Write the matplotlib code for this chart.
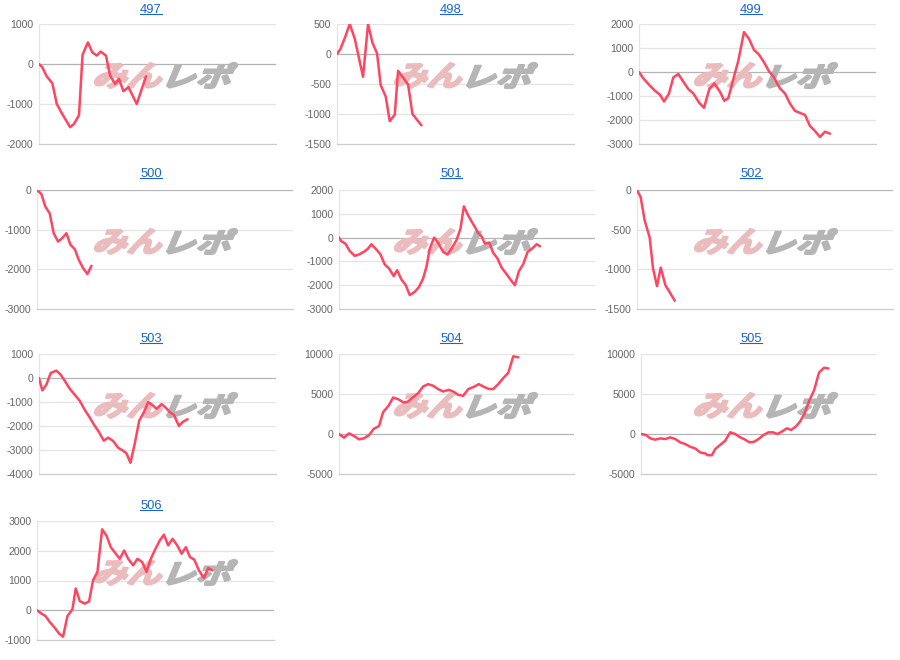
import matplotlib
matplotlib.use('Agg')
import matplotlib.pyplot as plt
from matplotlib.textpath import TextPath
from matplotlib.patches import PathPatch
from matplotlib.font_manager import FontProperties
from matplotlib.transforms import Affine2D, IdentityTransform
from matplotlib.lines import Line2D

plt.rcParams['font.family'] = ['Liberation Sans', 'DejaVu Sans']
plt.rcParams['axes.unicode_minus'] = False

# machine numbers
machines = ['497', '498', '499', '500', '501', '502', '503', '504', '505', '506']

# games played / coin difference for each machine
games_497 = [0, 110, 260, 450, 600, 770, 1050, 1180, 1350, 1470, 1650, 1800, 1950, 2080, 2260,
             2400, 2570, 2700, 2850, 3020, 3300, 3610]
diff_497 = [0, -80, -310, -480, -1000, -1230, -1580, -1500, -1280, 230, 540, 290, 210, 310, 210,
            -290, -500, -370, -680, -580, -1000, -310]

games_498 = [0, 113, 282, 428, 597, 879, 1048, 1195, 1352, 1476, 1645, 1781, 1950, 2062, 2400, 2547, 2851]
diff_498 = [0, 80, 290, 500, 260, -380, 500, 190, 10, -520, -710, -1120, -1010, -280, -510, -1000, -1190]

games_499 = [0, 146, 371, 540, 709, 844, 1013, 1159, 1328, 1496, 1665, 1834, 2025, 2194, 2374, 2543,
             2734, 2880, 3015, 3184, 3353, 3544, 3713, 3881, 4050, 4219, 4388, 4534, 4759, 4928, 5096,
             5265, 5434, 5603, 5771, 5940, 6109, 6278, 6446]
diff_499 = [0, -265, -573, -782, -950, -1229, -894, -223, -84, -405, -712, -894, -1271, -1494, -712, -475,
            -824, -1201, -1089, -293, 475, 1662, 1383, 922, 726, 405, 28, -182, -684, -894, -1313,
            -1620, -1704, -1788, -2249, -2458, -2709, -2486, -2570]

games_500 = [0, 136, 261, 397, 522, 658, 783, 919, 1044, 1180, 1305, 1441, 1576, 1702]
diff_500 = [0, -100, -420, -590, -1090, -1300, -1220, -1090, -1380, -1490, -1760, -1970, -2120, -1910]

games_501 = [0, 73, 198, 334, 490, 647, 803, 907, 1012, 1168, 1293, 1429, 1565, 1711, 1815, 1950, 2086,
             2211, 2368, 2503, 2628, 2733, 2837, 2973, 3098, 3254, 3390, 3515, 3671, 3797, 3901, 4036,
             4141, 4245, 4349, 4454, 4558, 4694, 4819, 4954, 5079, 5236, 5371, 5497, 5622, 5757, 5893,
             6039, 6175, 6279]
diff_501 = [0, -154, -251, -559, -768, -698, -573, -461, -279, -503, -698, -1131, -1299, -1620, -1369,
            -1760, -1997, -2416, -2277, -2067, -1718, -1229, -461, 0, -223, -601, -712, -461, -112, 377,
            1313, 936, 684, 447, 196, 56, -251, -209, -642, -880, -1257, -1536, -1788, -1997, -1411,
            -1117, -601, -461, -279, -363]

games_502 = [0, 115, 240, 397, 501, 626, 741, 887, 1044, 1180]
diff_502 = [0, -92, -384, -602, -990, -1212, -978, -1199, -1304, -1396]

games_503 = [0, 113, 248, 394, 586, 732, 868, 1037, 1206, 1375, 1544, 1713, 1882, 2017, 2186, 2333,
             2502, 2671, 2840, 2952, 3088, 3234, 3381, 3539, 3685, 3820, 3967, 4136, 4271, 4418, 4553,
             4722, 4869, 5015]
diff_503 = [0, -517, -279, 209, 307, 140, -112, -447, -698, -950, -1327, -1648, -1997, -2235, -2612,
            -2486, -2626, -2905, -3031, -3142, -3534, -2723, -1788, -1425, -1006, -1117, -1285, -1089,
            -1229, -1425, -1536, -1997, -1816, -1718]

games_504 = [0, 170, 341, 511, 682, 852, 1023, 1182, 1364, 1500, 1693, 1841, 2011, 2204, 2352, 2523,
             2693, 2864, 3034, 3205, 3375, 3545, 3738, 3886, 4057, 4227, 4398, 4568, 4761, 4909, 5080,
             5250, 5420, 5591, 5761, 5932, 6102]
diff_504 = [0, -460, 80, -250, -670, -540, -130, 630, 1000, 2720, 3560, 4560, 4350, 3930, 4060, 4600,
            5100, 5940, 6230, 6030, 5610, 5310, 5520, 5310, 4900, 4770, 5610, 5860, 6230, 5940, 5650,
            5610, 6230, 6990, 7620, 9710, 9580]

games_505 = [0, 170, 317, 487, 657, 827, 997, 1167, 1337, 1507, 1677, 1847, 2017, 2187, 2266, 2413,
             2527, 2697, 2866, 3036, 3206, 3376, 3546, 3694, 3852, 4000, 4169, 4339, 4487, 4645, 4815,
             4963, 5110, 5268, 5416, 5563, 5733, 5892, 6062, 6232, 6379]
diff_505 = [0, -130, -550, -710, -550, -630, -420, -630, -1050, -1260, -1600, -1810, -2310, -2440, -2650,
            -2650, -1890, -1350, -840, 210, 0, -420, -710, -1050, -970, -630, -130, 210, 210, 0, 340,
            710, 500, 920, 1560, 2520, 4200, 5460, 7690, 8280, 8190]

games_506 = [0, 146, 282, 428, 575, 744, 879, 1026, 1195, 1307, 1443, 1612, 1758, 1893, 2040, 2198,
             2344, 2491, 2660, 2795, 2941, 3077, 3246, 3392, 3550, 3697, 3843, 4001, 4147, 4283, 4429,
             4576, 4733, 4880, 5026, 5162, 5308, 5466, 5635, 5781, 5917]
diff_506 = [0, -110, -190, -390, -560, -780, -890, -200, 30, 730, 310, 220, 300, 1010, 1290, 2720,
            2510, 2120, 1900, 1730, 2010, 1730, 1510, 1730, 1620, 1290, 1730, 2070, 2350, 2540, 2180,
            2400, 2180, 1900, 2120, 1790, 1700, 1340, 1080, 1420, 1340]

# y tick values for each panel
ticks_497 = [-2000, -1000, 0, 1000]
ticks_498 = [-1500, -1000, -500, 0, 500]
ticks_499 = [-3000, -2000, -1000, 0, 1000, 2000]
ticks_500 = [-3000, -2000, -1000, 0]
ticks_501 = [-3000, -2000, -1000, 0, 1000, 2000]
ticks_502 = [-1500, -1000, -500, 0]
ticks_503 = [-4000, -3000, -2000, -1000, 0, 1000]
ticks_504 = [-5000, 0, 5000, 10000]
ticks_505 = [-5000, 0, 5000, 10000]
ticks_506 = [-1000, 0, 1000, 2000, 3000]

games = [games_497, games_498, games_499, games_500, games_501,
         games_502, games_503, games_504, games_505, games_506]
diffs = [diff_497, diff_498, diff_499, diff_500, diff_501,
         diff_502, diff_503, diff_504, diff_505, diff_506]
ticks = [ticks_497, ticks_498, ticks_499, ticks_500, ticks_501,
         ticks_502, ticks_503, ticks_504, ticks_505, ticks_506]

W, H = 900, 660
# plot boxes in pixels: left, right, top, bottom
boxes = [(39, 276, 24, 144), (337, 574, 24, 144), (639, 876, 24, 144),
         (37, 293, 190, 309), (339, 595, 190, 309), (637, 893, 190, 309),
         (39, 276, 354, 474), (339, 574, 354, 474), (641, 876, 354, 474),
         (37, 274, 521, 640)]
title_y = [10, 174, 339, 506]

fig = plt.figure(figsize=(W / 100, H / 100), dpi=100)

jp = FontProperties(family='Noto Sans CJK JP', weight='bold')


def logo_part(ax, text, color, x0, x1, ytop, ybot):
    p = TextPath((0, 0), text, size=1, prop=jp)
    p = p.transformed(Affine2D().skew_deg(18, 0))
    ext = p.get_extents()
    sx = (x1 - x0 - 2) / ext.width
    sy = (ybot - ytop - 2) / ext.height
    t = Affine2D().translate(-ext.x0, -ext.y0).scale(sx, sy).translate(x0 + 1, H - ybot + 1)
    patch = PathPatch(t.transform_path(p), facecolor=color, edgecolor=color, lw=1.6,
                      joinstyle='round', transform=IdentityTransform(), zorder=1)
    ax.add_artist(patch)


titles = []
for i, name in enumerate(machines):
    l, r, t, b = boxes[i]
    ax = fig.add_axes([l / W, 1 - b / H, (r - l) / W, (b - t) / H])
    yt = ticks[i]
    ax.set_xlim(0, 8000)
    ax.set_ylim(yt[0], yt[-1])
    ax.set_xticks([])
    ax.set_yticks(yt)
    ax.set_yticklabels([str(v) for v in yt])
    ax.tick_params(axis='y', length=0, pad=4, labelsize=7.6, labelcolor='#666666')
    for v in yt[1:]:
        ax.axhline(v, color='#b4b4b4' if v == 0 else '#e4e4e4', lw=0.9, zorder=0)
    for s in ['top', 'right']:
        ax.spines[s].set_visible(False)
    ax.spines['left'].set_color('#e4e4e4')
    ax.spines['bottom'].set_color('#cccccc')
    ax.spines['left'].set_linewidth(0.9)
    ax.spines['bottom'].set_linewidth(0.9)

    col = (i % 3) * 300
    logo_part(ax, 'みん', '#ebbcbe', col + 94, col + 163, t + 38, t + 65)
    logo_part(ax, 'レポ', '#b5b5b5', col + 166, col + 238, t + 38, t + 65)

    ax.plot(games[i], diffs[i], color='#ff4560', lw=1.8, zorder=3,
            solid_joinstyle='round', solid_capstyle='round')

    tx = (i % 3) * 300 + 151
    ty = title_y[i // 3]
    titles.append(fig.text(tx / W, 1 - ty / H, name, ha='center', va='center',
                           fontsize=9.4, color='#1a66cc'))

# underline the titles like links
fig.canvas.draw()
rend = fig.canvas.get_renderer()
for tt in titles:
    bb = tt.get_window_extent(rend)
    fig.add_artist(Line2D([bb.x0, bb.x1], [bb.y0 + 2, bb.y0 + 2], color='#1a66cc',
                          lw=0.8, transform=IdentityTransform()))

fig.savefig('out.png', dpi=100, facecolor='white')
